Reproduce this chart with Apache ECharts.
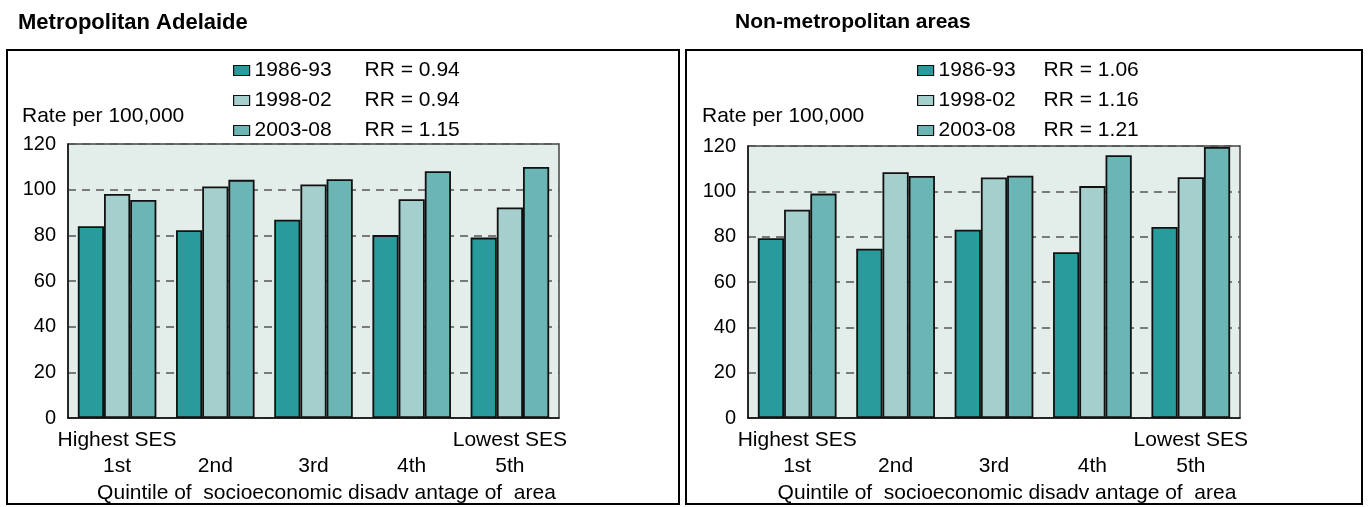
<!DOCTYPE html>
<html>
<head>
<meta charset="utf-8">
<script src="https://cdn.jsdelivr.net/npm/echarts@6/dist/echarts.min.js"></script>
<style>
  html, body { margin: 0; padding: 0; background: #fff; }
  #chart { width: 1368px; height: 507px; }
</style>
</head>
<body>
<div id="chart"></div>
<script>
// 数据
const quintiles = ['1st', '2nd', '3rd', '4th', '5th']
const periods = ['1986-93', '1998-02', '2003-08']
const yTicks = [0, 20, 40, 60, 80, 100, 120]

const metroTitle = 'Metropolitan Adelaide'
const metroRR = ['0.94', '0.94', '1.15']
const metro8693 = [84, 82.2, 86.8, 80.1, 79]
const metro9802 = [98.1, 101.4, 102.3, 95.8, 92.2]
const metro0308 = [95.5, 104.3, 104.6, 108.1, 109.9]

const ruralTitle = 'Non-metropolitan areas'
const ruralRR = ['1.06', '1.16', '1.21']
const rural8693 = [79.3, 74.7, 83.1, 73.1, 84.3]
const rural9802 = [91.9, 108.4, 106.1, 102.3, 106.2]
const rural0308 = [99, 106.8, 106.9, 115.9, 119.6]

const colors = ['#289b9c', '#a4cfcd', '#6bb5b5']
const FONT = 'Liberation Sans'
const FS = 21

// 坐标轴
const makeX = (gridIndex) => ({
  type: 'category',
  gridIndex,
  data: quintiles,
  axisLine: { lineStyle: { color: '#111', width: 1.5 } },
  axisTick: { show: false },
  axisLabel: {
    margin: 9,
    interval: 0,
    formatter: (v, i) => {
      const top = i === 0 ? 'Highest SES' : (i === 4 ? 'Lowest SES' : ' ')
      return '{h|' + top + '}\n{n|' + v + '}'
    },
    rich: {
      h: { fontFamily: FONT, fontSize: FS, color: '#000', lineHeight: 26 },
      n: { fontFamily: FONT, fontSize: FS, color: '#000', lineHeight: 26 }
    }
  },
  name: 'Quintile of  socioeconomic disadv antage of  area',
  nameLocation: 'middle',
  nameGap: 65,
  nameTextStyle: { fontFamily: FONT, fontSize: FS, color: '#000', padding: [0, 0, 0, 26] }
})

const makeY = (gridIndex) => ({
  type: 'value',
  gridIndex,
  min: yTicks[0],
  max: yTicks[yTicks.length - 1],
  interval: 20,
  axisLine: { show: true, lineStyle: { color: '#111', width: 1.5 } },
  axisTick: { show: false },
  axisLabel: { margin: 12, fontFamily: FONT, fontSize: 20, color: '#000' },
  splitLine: { lineStyle: { color: '#555', width: 1.5, type: [8, 6] } }
})

const makeSeries = (idx, lists) => lists.map((vals, k) => ({
  name: periods[k],
  type: 'bar',
  xAxisIndex: idx,
  yAxisIndex: idx,
  data: vals,
  barGap: '0%',
  barCategoryGap: '20%',
  itemStyle: { color: colors[k], borderColor: '#111', borderWidth: 1.8 },
  emphasis: { disabled: true }
}))

const makeLegend = (left, textWidth, rr) => ({
  orient: 'vertical',
  left,
  top: 55,
  icon: 'rect',
  itemWidth: 16,
  itemHeight: 10,
  itemGap: 9,
  selectedMode: false,
  data: periods.map((p, k) => ({
    name: p,
    itemStyle: { color: colors[k], borderColor: '#111', borderWidth: 1.2 }
  })),
  formatter: (name) => '{a|' + name + '}{b|RR = ' + rr[periods.indexOf(name)] + '}',
  textStyle: {
    rich: {
      a: { fontFamily: FONT, fontSize: FS, color: '#000', width: textWidth, lineHeight: 20 },
      b: { fontFamily: FONT, fontSize: FS, color: '#000', lineHeight: 20 }
    }
  }
})

const chart = echarts.init(document.getElementById('chart'))

chart.setOption({
  animation: false,
  backgroundColor: '#fff',
  title: [
    { text: metroTitle, left: 13, top: 7, textStyle: { fontFamily: FONT, fontSize: 22, fontWeight: 'bold', color: '#000' } },
    { text: ruralTitle, left: 730, top: 7, textStyle: { fontFamily: FONT, fontSize: 21, fontWeight: 'bold', color: '#000' } }
  ],
  legend: [makeLegend(228, 110, metroRR), makeLegend(912, 105, ruralRR)],
  grid: [
    { left: 68, top: 144, width: 491, height: 274, outerBoundsMode: 'none', containLabel: false, show: true, backgroundColor: '#e3edea', borderColor: '#444', borderWidth: 1.5 },
    { left: 748, top: 146, width: 492, height: 272, outerBoundsMode: 'none', containLabel: false, show: true, backgroundColor: '#e3edea', borderColor: '#444', borderWidth: 1.5 }
  ],
  xAxis: [makeX(0), makeX(1)],
  yAxis: [makeY(0), makeY(1)],
  series: [
    ...makeSeries(0, [metro8693, metro9802, metro0308]),
    ...makeSeries(1, [rural8693, rural9802, rural0308])
  ],
  graphic: [
    { type: 'rect', shape: { x: 7, y: 50, width: 672, height: 454 }, style: { fill: 'none', stroke: '#000', lineWidth: 2 }, silent: true },
    { type: 'rect', shape: { x: 686, y: 50, width: 676, height: 454 }, style: { fill: 'none', stroke: '#000', lineWidth: 2 }, silent: true },
    { type: 'text', left: 22, top: 106, style: { text: 'Rate per 100,000', fontFamily: FONT, fontSize: FS, fill: '#000' }, silent: true },
    { type: 'text', left: 702, top: 106, style: { text: 'Rate per 100,000', fontFamily: FONT, fontSize: FS, fill: '#000' }, silent: true }
  ]
})

window.addEventListener('resize', () => chart.resize())
</script>
</body>
</html>
